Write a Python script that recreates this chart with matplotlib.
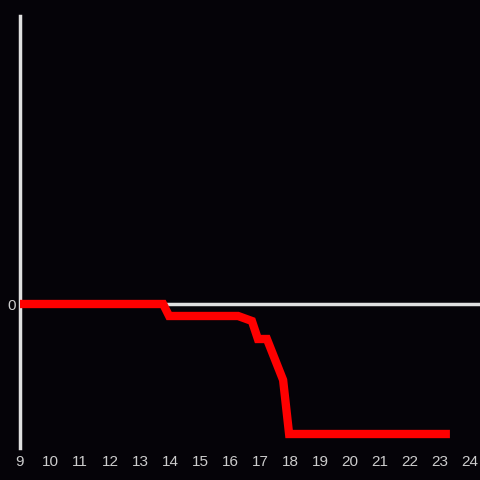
import matplotlib
matplotlib.use("Agg")
import matplotlib.pyplot as plt

# hour of day vs value
hours = [9.0, 13.77, 13.97, 16.27, 16.73, 16.93, 17.23, 17.77, 17.97, 23.33]
values = [0, 0, -12, -12, -17, -35, -35, -76, -130, -130]
xticks = list(range(9, 25))

bg = "#050308"
fig = plt.figure(figsize=(4.8, 4.8), dpi=100, facecolor=bg)
ax = fig.add_axes([20 / 480, 32 / 480, 460 / 480, 432 / 480])
ax.set_facecolor(bg)

ax.set_xlim(9, 24.333)
ax.set_ylim(-144, 288)

ax.axhline(0, color="#e0e0e0", lw=2.5, zorder=1)
ax.plot(hours, values, color="#ff0000", lw=6, solid_capstyle="butt",
        solid_joinstyle="miter", zorder=3)

for s in ["top", "right", "bottom"]:
    ax.spines[s].set_visible(False)
ax.spines["left"].set_color("#e0e0e0")
ax.spines["left"].set_linewidth(2.5)

ax.set_xticks(xticks)
ax.set_xticklabels([str(h) for h in xticks])
ax.set_yticks([0])
ax.set_yticklabels(["0"])
ax.tick_params(length=0, colors="#cccccc", labelsize=11)
ax.tick_params(axis="x", pad=5)
ax.tick_params(axis="y", pad=3)
for lab in ax.get_xticklabels() + ax.get_yticklabels():
    lab.set_fontfamily("Liberation Sans")

fig.savefig("out.png", dpi=100, facecolor=bg)
